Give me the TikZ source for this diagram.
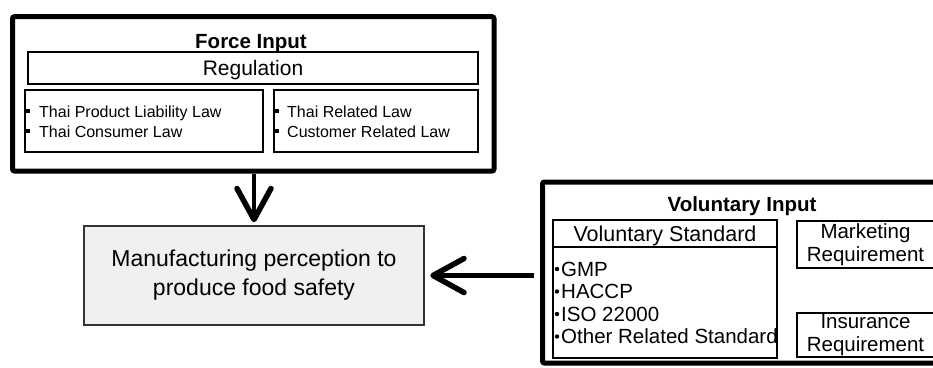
\documentclass[tikz,border=0pt]{standalone}
\usepackage{fontspec}
\setmainfont{Liberation Sans}
\usetikzlibrary{arrows.meta}
\definecolor{boxfill}{HTML}{F0F0F0}
\definecolor{boxline}{HTML}{333333}

\begin{document}
\begin{tikzpicture}[x=1pt, y=-1pt,
  outer/.style={draw, line width=5pt, rounded corners=2pt},
  inbox/.style={draw, line width=1.2pt, inner sep=0pt, font=\fontsize{20.5}{22.5}\selectfont},
  title/.style={font=\fontsize{20.5}{22}\selectfont\bfseries, inner sep=0pt, anchor=base},
  lawitem/.style={font=\fontsize{16}{19}\selectfont, inner sep=0pt, anchor=base west},
  stditem/.style={font=\fontsize{20.5}{23}\selectfont, inner sep=0pt, anchor=base west},
  flow/.style={line width=4.5pt, -{Straight Barb[length=31pt, width=34pt, line width=5.5pt, round]}}]
\useasboundingbox (0,0) rectangle (933,367);
\clip (0,0) rectangle (933,367);

% force input
\node[outer, minimum width=481.5pt, minimum height=154.3pt] (force) at (253.25,93.85) {};
\node[title] (forcetitle) at (251,48) {Force Input};
\node[inbox, text depth=0pt, minimum width=450pt, minimum height=32pt, font=\fontsize{21}{22}\selectfont] (regulation) at (253,68) {Regulation};
\node[inbox, minimum width=238pt, minimum height=62pt] (lawleft) at (144,121) {};
\node[inbox, minimum width=204pt, minimum height=62pt] (lawright) at (376,121) {};
\foreach \txt [count=\i] in {Thai Product Liability Law, Thai Consumer Law} {
  \node[lawitem] (lawL\i) at (39,97+20*\i) {\txt};
  \fill ([shift={(-13,-8)}]lawL\i.base west) rectangle ++(4,4);
}
\foreach \txt [count=\i] in {Thai Related Law, Customer Related Law} {
  \node[lawitem] (lawR\i) at (287,97+20*\i) {\txt};
  \fill ([shift={(-12,-8)}]lawR\i.base west) rectangle ++(4,4);
}

% manufacturing
\node[draw=boxline, fill=boxfill, line width=1.5pt, minimum width=340pt, minimum height=99pt,
  align=center, font=\fontsize{23}{29}\selectfont] (mainbox) at (254,275.5)
  {Manufacturing perception to\\produce food safety};

% voluntary input
\node[outer, minimum width=399pt, minimum height=181pt] (voluntary) at (742,272.5) {};
\node[title] (voltitle) at (742,211) {Voluntary Input};
\node[inbox, text depth=0pt, minimum width=224pt, minimum height=27pt, font=\fontsize{21.5}{22}\selectfont] (vshead) at (665,233.5) {Voluntary Standard};
\node[inbox, minimum width=224pt, minimum height=111pt] (vsbody) at (665,302.5) {};
\foreach \txt [count=\i] in {GMP, HACCP, ISO 22000, Other Related Standard} {
  \node[stditem] (vs\i) at (561,253.5+22.5*\i) {\txt};
  \fill ([shift={(-4,-7)}]vs\i.base west) circle (2.2pt);
}
\node[inbox, align=center, minimum width=137pt, minimum height=47pt] (marketing) at (865.5,244.5) {Marketing\\Requirement};
\node[inbox, align=center, minimum width=137pt, minimum height=44pt] (insurance) at (865.5,335) {Insurance\\Requirement};

% arrows
\draw[flow, shorten >=3pt] (mainbox.north |- force.south) -- (mainbox.north);
\draw[flow, shorten <=6.5pt, shorten >=5.5pt] (voluntary.west |- mainbox.east) -- (mainbox.east);
\end{tikzpicture}
\end{document}
